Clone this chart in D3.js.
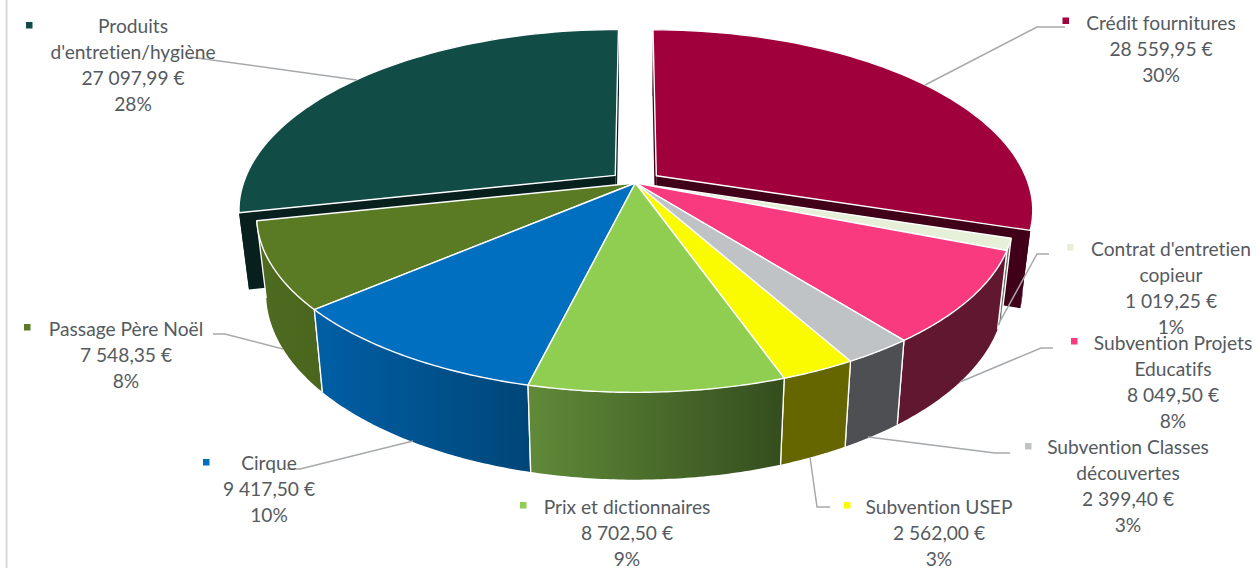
<!DOCTYPE html>
<html lang="fr">
<head>
<meta charset="utf-8">
<title>Répartition des dépenses</title>
<script src="https://cdn.jsdelivr.net/npm/d3@7"></script>
<style>
  html, body { margin: 0; padding: 0; background: #fff; }
  svg { display: block; }
  text { font-family: Lato, sans-serif; font-size: 19.2px; font-variant-ligatures: none; fill: #555a5e; text-anchor: middle; dominant-baseline: central; }
</style>
</head>
<body>
<svg id="chart" width="1260" height="568"></svg>
<script>
// Data, clockwise from the top of the pie
const categories = ["Crédit fournitures", "Contrat d'entretien copieur", "Subvention Projets Educatifs",
  "Subvention Classes découvertes", "Subvention USEP", "Prix et dictionnaires", "Cirque",
  "Passage Père Noël", "Produits d'entretien/hygiène"];
const amounts = [28559.95, 1019.25, 8049.50, 2399.40, 2562.00, 8702.50, 9417.50, 7548.35, 27097.99];
const amountLabels = ["28 559,95 €", "1 019,25 €", "8 049,50 €", "2 399,40 €", "2 562,00 €",
  "8 702,50 €", "9 417,50 €", "7 548,35 €", "27 097,99 €"];
const percentLabels = ["30%", "1%", "8%", "3%", "3%", "9%", "10%", "8%", "28%"];
const explodedCategories = ["Crédit fournitures", "Produits d'entretien/hygiène"];

// Styles, same order as the data
const topColors = ["#a0003c", "#e6f0d8", "#f93a7f", "#bfc3c5", "#fafa00", "#8fce50", "#006fc0", "#5b7a24", "#114c47"];
const wallFrom = ["#3f0018", "#70756a", "#60172f", "#4e4f52", "#666600", "#608a38", "#005fa5", "#4f6b20", "#07201e"];
const wallTo = ["#3f0018", "#70756a", "#60172f", "#4e4f52", "#666600", "#344d1e", "#004678", "#4a661e", "#07201e"];

// Label layout: text lines, centre x, line centres y, key square, leader line
const labelLayout = [
  { lines: ["Crédit fournitures"], x: 1161, y: 22, key: [1062.5, 17.5], leader: [[1065, 27], [1037, 27], [925, 85]] },
  { lines: ["Contrat d'entretien", "copieur"], x: 1171, y: 248, key: [1067, 244], leader: [[1049, 254], [1037, 254], [998, 325]] },
  { lines: ["Subvention Projets", "Educatifs"], x: 1173, y: 342, key: [1071, 338], leader: [[1053, 348], [1041, 348], [960, 382]] },
  { lines: ["Subvention Classes", "découvertes"], x: 1128, y: 446, key: [1025, 443], leader: [[1010, 453], [995, 453], [868, 437]] },
  { lines: ["Subvention USEP"], x: 939, y: 506, key: [844, 502], leader: [[830, 507], [817, 507], [810, 457]] },
  { lines: ["Prix et dictionnaires"], x: 627, y: 506, key: [520, 502], leader: null },
  { lines: ["Cirque"], x: 269, y: 462, key: [203, 459], leader: [[287, 469], [300, 469], [413, 441]] },
  { lines: ["Passage Père Noël"], x: 126, y: 328, key: [24, 324], leader: [[213, 334], [225, 334], [283, 349]] },
  { lines: ["Produits", "d'entretien/hygiène"], x: 133, y: 25, key: [26, 22], leader: [[190, 57], [357, 80]] }
];

const svg = d3.select("#chart");
const defs = svg.append("defs");

// Pie geometry. k is the perspective strength, the bottom disc is a bit smaller and lower.
const cx = 635.4, k = 0.188, rx = 372, explode = 0.07, backStretch = 1.035;
const topDisc = { scaleX: 1, y: 183, ry: 170 };
const bottomDisc = { scaleX: 0.975, y: 258, ry: 180 };

function project(disc, u, v) {
  const w = 1 - k * v;
  const stretch = v < 0 ? backStretch : 1;
  return [cx + disc.scaleX * rx * u / w, disc.y + stretch * disc.ry * v / w];
}

const pie = d3.pie().sort(null).value(d => d);
const slices = pie(amounts).map((s, i) => {
  const mid = (s.startAngle + s.endAngle) / 2;
  const off = explodedCategories.includes(categories[i]) ? explode : 0;
  return { ...s, i, off, ox: off * Math.sin(mid), oy: -off * Math.cos(mid) };
});

function rimPoints(s, disc) {
  const steps = d3.range(0, 61).map(n => s.startAngle + (s.endAngle - s.startAngle) * n / 60);
  return steps.map(a => project(disc, s.ox + Math.sin(a), s.oy - Math.cos(a)));
}

function radialFace(s, angle) {
  const rimU = s.ox + Math.sin(angle), rimV = s.oy - Math.cos(angle);
  return [project(topDisc, s.ox, s.oy), project(topDisc, rimU, rimV),
    project(bottomDisc, rimU, rimV), project(bottomDisc, s.ox, s.oy)];
}

const line = d3.line().curve(d3.curveLinearClosed);
const openLine = d3.line();

function drawSlice(g, s) {
  const topRim = rimPoints(s, topDisc);
  const bottomRim = rimPoints(s, bottomDisc);

  const gradId = `wall${s.i}`;
  const grad = defs.append("linearGradient").attr("id", gradId)
    .attr("gradientUnits", "objectBoundingBox").attr("x1", 0).attr("x2", 1).attr("y1", 0).attr("y2", 0);
  grad.append("stop").attr("offset", 0).attr("stop-color", wallFrom[s.i]);
  grad.append("stop").attr("offset", 1).attr("stop-color", wallTo[s.i]);

  // cut faces only show on the pulled out slices
  if (s.off > 0) {
    [s.startAngle, s.endAngle].forEach(a => {
      g.append("path").attr("d", line(radialFace(s, a))).attr("fill", wallFrom[s.i]);
    });
  }
  g.append("path").attr("d", line(topRim.concat(bottomRim.slice().reverse())))
    .attr("fill", `url(#${gradId})`);
  if (s.off === 0) {
    [0, topRim.length - 1].forEach(n => {
      g.append("path").attr("d", openLine([topRim[n], bottomRim[n]]))
        .attr("stroke", "#fff").attr("stroke-width", 1.3).attr("fill", "none");
    });
  }
  g.append("path").attr("d", line([project(topDisc, s.ox, s.oy)].concat(topRim)))
    .attr("fill", topColors[s.i]).attr("stroke", "#fff").attr("stroke-width", 1.4)
    .attr("stroke-linejoin", "round");
}

// frame line at the left edge
svg.append("line").attr("x1", 6.5).attr("x2", 6.5).attr("y1", 0).attr("y2", 568)
  .attr("stroke", "#d9d9d9").attr("stroke-width", 2);

const pieGroup = svg.append("g");
// back slices first, then the front ones from the outside in
const drawOrder = [8, 0, 7, 1, 2, 6, 3, 4, 5];
drawOrder.forEach(i => drawSlice(pieGroup, slices[i]));

// Leader lines go over the pie, labels over the lines
labelLayout.forEach(l => {
  if (!l.leader) return;
  svg.append("path").attr("d", openLine(l.leader))
    .attr("fill", "none").attr("stroke", "#a6a9ac").attr("stroke-width", 1.5);
});

labelLayout.forEach((l, i) => {
  svg.append("rect").attr("x", l.key[0]).attr("y", l.key[1]).attr("width", 6.5).attr("height", 6.5)
    .attr("fill", topColors[i]);
  const rows = l.lines.concat([amountLabels[i], percentLabels[i]]);
  rows.forEach((t, r) => {
    svg.append("text").attr("x", l.x).attr("y", l.y + r * 26.2).text(t);
  });
});
</script>
</body>
</html>
